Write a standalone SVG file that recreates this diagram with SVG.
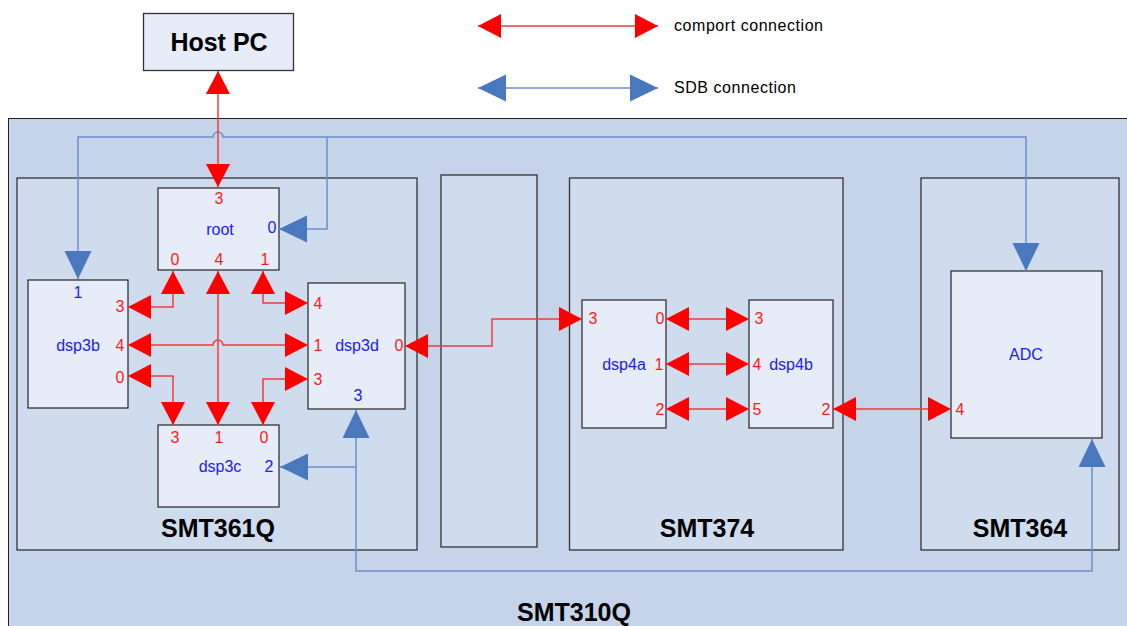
<svg xmlns="http://www.w3.org/2000/svg" width="1127" height="626" viewBox="0 0 1127 626">
<defs>
<style>
.box{stroke:#333;stroke-width:1.3}
.mod{fill:#cfdcee}
.dsp{fill:#e6edf8}
.red{fill:none;stroke:#f03c3c;stroke-width:1.5;marker-start:url(#ra);marker-end:url(#ra)}
.blu{fill:none;stroke:#6a90cc;stroke-width:1.5}
.pr{font-family:"Liberation Sans",Arial,sans-serif;font-size:16px;fill:#ff1a1a;text-anchor:middle}
.pb{font-family:"Liberation Sans",Arial,sans-serif;font-size:16px;fill:#1a1aff;text-anchor:middle}
.ttl{font-family:"Liberation Sans",Arial,sans-serif;font-size:25px;font-weight:bold;fill:#000;text-anchor:middle}
.leg{font-family:"Liberation Sans",Arial,sans-serif;font-size:16px;fill:#000;letter-spacing:0.55px}
</style>
<marker id="ra" markerUnits="userSpaceOnUse" markerWidth="24" markerHeight="24" refX="23" refY="12" orient="auto-start-reverse"><path d="M0,0 L23,12 L0,24 Z" fill="#ff0000"/></marker>
<marker id="ba" markerUnits="userSpaceOnUse" markerWidth="28" markerHeight="28" refX="28" refY="13.5" orient="auto-start-reverse"><path d="M0,0 L28,13.5 L0,27 Z" fill="#4a78bf"/></marker>
</defs>
<rect width="1127" height="626" fill="#fff"/>
<g id="SMT310Q">
<rect x="8.5" y="118.5" width="1130" height="520" fill="#c5d4e9" stroke="#222" stroke-width="1"/>
<text class="ttl" x="574" y="621">SMT310Q</text>
</g>
<g id="SMT361Q">
<rect class="box mod" x="17" y="178" width="400" height="372"/>
<text class="ttl" x="218" y="537">SMT361Q</text>
</g>
<g id="empty-slot">
<rect class="box mod" x="441" y="175" width="96" height="372"/>
</g>
<g id="SMT374">
<rect class="box mod" x="569.5" y="178" width="273.5" height="372"/>
<text class="ttl" x="707" y="537">SMT374</text>
</g>
<g id="SMT364">
<rect class="box mod" x="921" y="178" width="198" height="372"/>
<text class="ttl" x="1020" y="537">SMT364</text>
</g>
<g id="hostpc">
<rect x="143.5" y="13.5" width="150" height="57" fill="#e6edf8" stroke="#333" stroke-width="1.3"/>
<text class="ttl" x="219" y="51">Host PC</text>
</g>
<g id="root">
<rect class="box dsp" x="158" y="188" width="121" height="82"/>
<text class="pr" x="219" y="204">3</text>
<text class="pb" x="220" y="235">root</text>
<text class="pb" x="272" y="233">0</text>
<text class="pr" x="175" y="265">0</text>
<text class="pr" x="219" y="265">4</text>
<text class="pr" x="265" y="265">1</text>
</g>
<g id="dsp3b">
<rect class="box dsp" x="28" y="280" width="100" height="128"/>
<text class="pb" x="78" y="298">1</text>
<text class="pr" x="120" y="312">3</text>
<text class="pb" x="78" y="351">dsp3b</text>
<text class="pr" x="120" y="351">4</text>
<text class="pr" x="120" y="383">0</text>
</g>
<g id="dsp3d">
<rect class="box dsp" x="308" y="283" width="97" height="126"/>
<text class="pr" x="318" y="309">4</text>
<text class="pr" x="318" y="351">1</text>
<text class="pb" x="357" y="351">dsp3d</text>
<text class="pr" x="399" y="351">0</text>
<text class="pr" x="318" y="385">3</text>
<text class="pb" x="358" y="401">3</text>
</g>
<g id="dsp3c">
<rect class="box dsp" x="158" y="425" width="121" height="82"/>
<text class="pr" x="175" y="443">3</text>
<text class="pr" x="219" y="443">1</text>
<text class="pr" x="264" y="443">0</text>
<text class="pb" x="220" y="472">dsp3c</text>
<text class="pb" x="269" y="472">2</text>
</g>
<g id="dsp4a">
<rect class="box dsp" x="582" y="300" width="84" height="128"/>
<text class="pr" x="593" y="324">3</text>
<text class="pr" x="660" y="324">0</text>
<text class="pb" x="624" y="370">dsp4a</text>
<text class="pr" x="659" y="370">1</text>
<text class="pr" x="660" y="415">2</text>
</g>
<g id="dsp4b">
<rect class="box dsp" x="749" y="300" width="84" height="128"/>
<text class="pr" x="759" y="324">3</text>
<text class="pr" x="757" y="370">4</text>
<text class="pb" x="791" y="370">dsp4b</text>
<text class="pr" x="757" y="415">5</text>
<text class="pr" x="826" y="415">2</text>
</g>
<g id="ADC">
<rect class="box dsp" x="951" y="271" width="151" height="167"/>
<text class="pb" x="1026" y="360">ADC</text>
<text class="pr" x="960" y="415">4</text>
</g>
<g id="legend">
<path class="red" d="M478,26 L658,26"/>
<text class="leg" x="674" y="31">comport connection</text>
<path class="blu" d="M478,88 L658,88" marker-start="url(#ba)" marker-end="url(#ba)"/>
<text class="leg" x="674" y="93">SDB connection</text>
</g>
<g id="connectors">
<path class="blu" d="M78,279 L78,137 L213,137 A5,5 0 0 1 223,137 L1026,137 L1026,271" marker-start="url(#ba)" marker-end="url(#ba)"/>
<path class="blu" d="M327,137 L327,229 L279,229" marker-end="url(#ba)"/>
<path class="blu" d="M1092,439 L1092,571 L356,571 L356,410" marker-start="url(#ba)" marker-end="url(#ba)"/>
<path class="blu" d="M356,467 L280,467" marker-end="url(#ba)"/>
<path class="red" d="M218,71 L218,187"/>
<path class="red" d="M173,271 L173,307 L128,307"/>
<path class="red" d="M218,271 L218,425"/>
<path class="red" d="M263,271 L263,303 L308,303"/>
<path class="red" d="M128,345 L213,345 A5,5 0 0 1 223,345 L308,345"/>
<path class="red" d="M128,376 L173,376 L173,425"/>
<path class="red" d="M308,379 L263,379 L263,425"/>
<path class="red" d="M405,346 L492,346 L492,319 L582,319"/>
<path class="red" d="M666,319 L749,319"/>
<path class="red" d="M666,364 L749,364"/>
<path class="red" d="M666,409 L749,409"/>
<path class="red" d="M833,409 L951,409"/>
</g>
</svg>
